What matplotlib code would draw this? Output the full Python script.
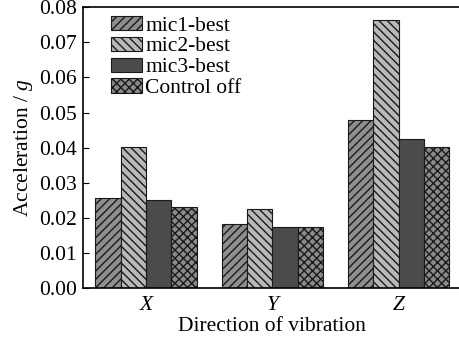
import matplotlib
matplotlib.use("Agg")
import matplotlib.pyplot as plt
import numpy as np

plt.rcParams["font.family"] = ["Liberation Serif", "DejaVu Serif"]
plt.rcParams["mathtext.fontset"] = "custom"
plt.rcParams["mathtext.it"] = "Liberation Serif:italic"
plt.rcParams["mathtext.rm"] = "Liberation Serif"
plt.rcParams["hatch.linewidth"] = 1.0

directions = ["X", "Y", "Z"]
series_names = ["mic1-best", "mic2-best", "mic3-best", "Control off"]
mic1_best = [0.0257, 0.0183, 0.0479]
mic2_best = [0.0402, 0.0226, 0.0764]
mic3_best = [0.0250, 0.0175, 0.0424]
control_off = [0.0230, 0.0175, 0.0403]

values = [mic1_best, mic2_best, mic3_best, control_off]
fills = ["#8e8e8e", "#b8b8b8", "#4b4b4b", "#8a8a8a"]
hatches = ["////", "\\\\\\\\", "", "xxxx"]

fig = plt.figure(figsize=(4.6, 3.41), dpi=100)
ax = fig.add_axes([0.180, 0.155, 0.824, 0.824])

x = np.arange(len(directions))
width = 0.2
for i, (name, vals) in enumerate(zip(series_names, values)):
    ax.bar(x + (i - 1.5) * width, vals, width, color=fills[i],
           hatch=hatches[i], edgecolor="#1a1a1a", linewidth=0.8,
           label=name)

ax.set_xlim(-0.5, 2.5)
ax.set_ylim(0, 0.08)
yticks = np.arange(0, 0.081, 0.01)
ax.set_yticks(yticks)
ax.set_yticklabels([f"{v:.2f}" for v in yticks])
ax.set_xticks(x)
ax.set_xticklabels(directions, fontstyle="italic")
ax.tick_params(axis="y", direction="in", length=4, labelsize=15.5, pad=4)
ax.tick_params(axis="x", length=0, labelsize=15.5, pad=6)
for s in ax.spines.values():
    s.set_linewidth(1.2)

ax.set_xlabel("Direction of vibration", fontsize=15.5, labelpad=1)
ax.set_ylabel("Acceleration / $g$", fontsize=15.5, labelpad=3)

ax.legend(loc="upper left", bbox_to_anchor=(0.04, 1.015), frameon=False,
          fontsize=15.5, handlelength=1.45, handleheight=0.65,
          handletextpad=0.15, labelspacing=0.05, borderaxespad=0.2)

fig.savefig("out.png", dpi=100)
